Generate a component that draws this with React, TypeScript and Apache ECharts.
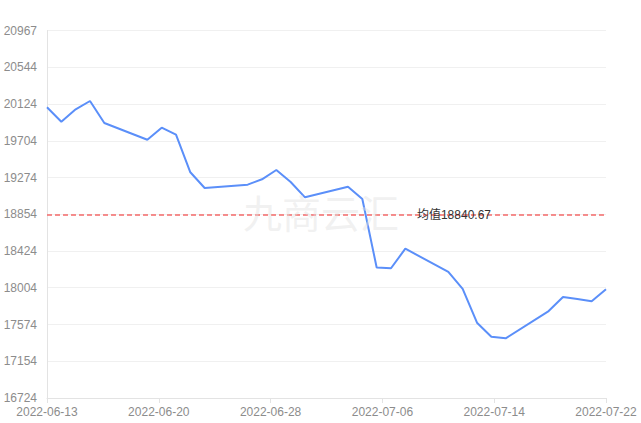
import React, { useEffect, useRef } from "react";
import * as echarts from "echarts";

const dates = [
  "2022-06-13", "2022-06-14", "2022-06-15", "2022-06-16", "2022-06-17",
  "2022-06-20", "2022-06-21", "2022-06-22", "2022-06-23", "2022-06-24",
  "2022-06-27", "2022-06-28", "2022-06-29", "2022-06-30", "2022-07-01",
  "2022-07-04", "2022-07-05", "2022-07-06", "2022-07-07", "2022-07-08",
  "2022-07-11", "2022-07-12", "2022-07-13", "2022-07-14", "2022-07-15",
  "2022-07-18", "2022-07-19", "2022-07-20", "2022-07-21", "2022-07-22",
];
const prices = [
  20080, 19914, 20057, 20153, 19899,
  19706, 19845, 19764, 19330, 19149,
  19187, 19249, 19356, 19218, 19041,
  19164, 19022, 18231, 18222, 18448,
  18179, 17983, 17593, 17432, 17413,
  17728, 17890, 17867, 17841, 17979,
];
const yTickLabels = ["16724", "17154", "17574", "18004", "18424", "18854", "19274", "19704", "20124", "20544", "20967"];
const yMin = 16724;
const yMax = 20967;
const meanValue = 18840.67;
const meanLabel = "均值18840.67";
const watermark = "九商云汇";

const DAY = 86400000;
const toUTC = (s: string) => {
  const [y, m, d] = s.split("-").map(Number);
  return Date.UTC(y, m - 1, d);
};
const start = toUTC(dates[0]);
const dayOffset = (s: string) => (toUTC(s) - start) / DAY;
const pad = (n: number) => (n < 10 ? "0" + n : "" + n);
const fmtDay = (v: number) => {
  const d = new Date(start + Math.floor(v + 1e-6) * DAY);
  return d.getUTCFullYear() + "-" + pad(d.getUTCMonth() + 1) + "-" + pad(d.getUTCDate());
};

export default function App() {
  const ref = useRef<HTMLDivElement>(null);
  useEffect(() => {
    if (!ref.current) return;
    const chart = echarts.init(ref.current, null, { renderer: "svg" });
    const xMax = dayOffset(dates[dates.length - 1]);
    const font = "Liberation Sans, Arial, Noto Sans CJK SC, sans-serif";
    chart.setOption({
      animation: false,
      backgroundColor: "#ffffff",
      grid: { left: 47, right: 35, top: 30.5, bottom: 25, containLabel: false },
      xAxis: {
        type: "value",
        min: 0,
        max: xMax,
        interval: xMax / 5,
        axisLine: { show: true, lineStyle: { color: "#e3e3e3" } },
        axisTick: { show: true, length: 5, lineStyle: { color: "#e3e3e3" } },
        splitLine: { show: false },
        axisLabel: {
          color: "#8c8c8c",
          fontSize: 12,
          fontFamily: font,
          margin: 8,
          showMinLabel: true,
          showMaxLabel: true,
          formatter: (v: number) => fmtDay(v),
        },
      },
      yAxis: {
        type: "value",
        min: yMin,
        max: yMax,
        interval: (yMax - yMin) / 10,
        axisLine: { show: true, lineStyle: { color: "#e3e3e3" } },
        axisTick: { show: false },
        splitLine: { show: true, lineStyle: { color: "#f0f0f0" } },
        axisLabel: {
          color: "#8c8c8c",
          fontSize: 12,
          fontFamily: font,
          margin: 10,
          formatter: (_v: number, i: number) => yTickLabels[i] ?? "",
        },
      },
      series: [
        {
          type: "line",
          data: dates.map((d, i) => [dayOffset(d), prices[i]]),
          showSymbol: false,
          symbol: "none",
          lineStyle: { color: "#5b8ff9", width: 2 },
          itemStyle: { color: "#5b8ff9" },
          markLine: {
            silent: true,
            symbol: "none",
            lineStyle: { color: "#f46a6a", type: [5, 3], width: 1.5 },
            label: {
              show: true,
              position: "insideEnd",
              distance: [115, 0],
              color: "#333",
              fontSize: 12,
              fontFamily: font,
              formatter: meanLabel,
            },
            data: [{ yAxis: meanValue }],
          },
        },
      ],
      graphic: [
        {
          type: "text",
          x: 321,
          y: 211,
          z: 100,
          silent: true,
          style: {
            text: watermark,
            fontSize: 39,
            fontFamily: "Noto Sans CJK SC, sans-serif",
            fill: "rgba(225,225,225,0.45)",
            align: "center",
            verticalAlign: "middle",
            textAlign: "center",
            textVerticalAlign: "middle",
          },
        },
      ],
    });
    return () => chart.dispose();
  }, []);
  return (
    <div
      ref={ref}
      style={{ position: "fixed", left: 0, top: 0, width: 641, height: 423 }}
    />
  );
}
